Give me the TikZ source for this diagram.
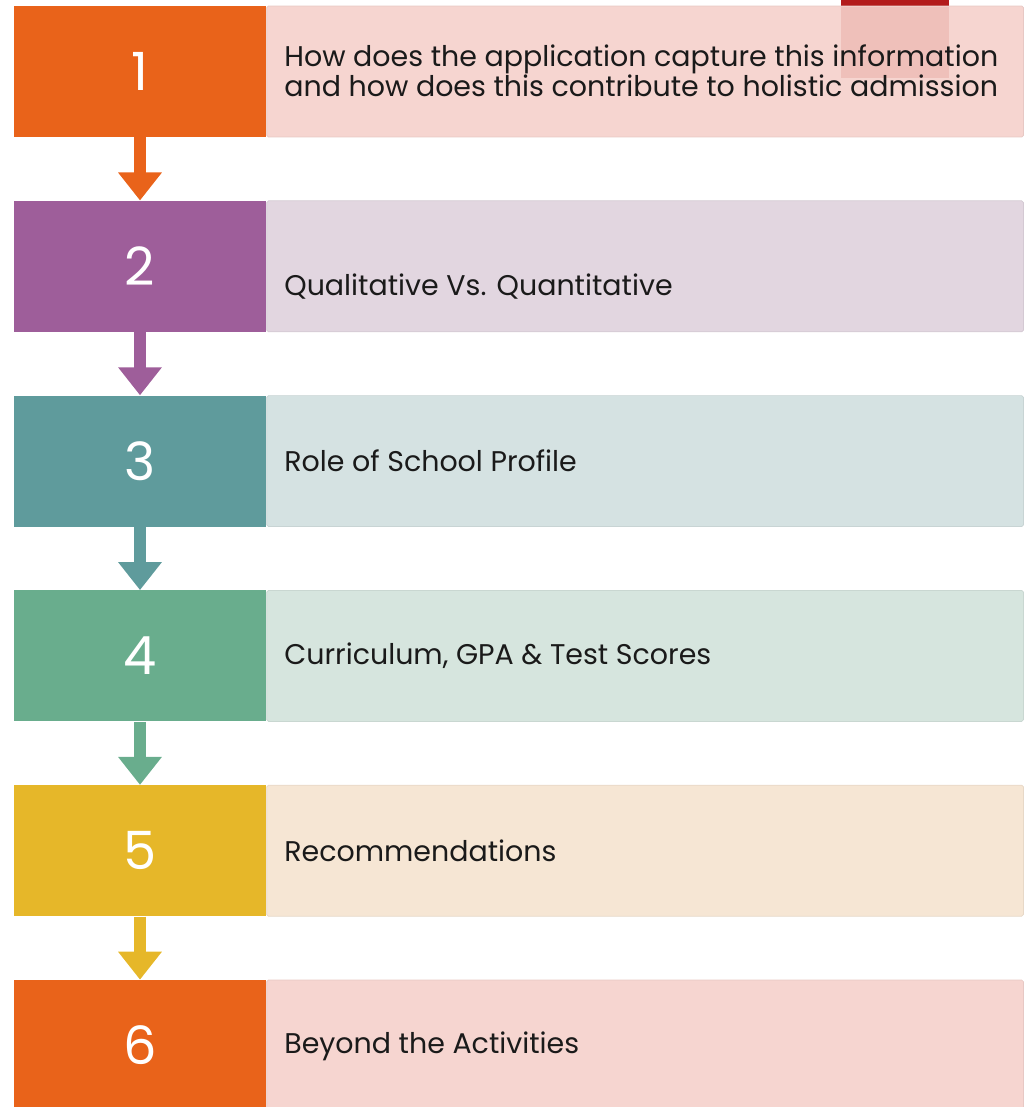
\documentclass[tikz,border=0pt]{standalone}
\usepackage{fontspec}
\setmainfont{Poppins}
\usetikzlibrary{arrows.meta,positioning,calc}
\definecolor{StepOrange}{HTML}{E9631A}
\definecolor{StepPurple}{HTML}{9E5E9A}
\definecolor{StepTeal}{HTML}{5F9B9C}
\definecolor{StepGreen}{HTML}{69AD8D}
\definecolor{StepYellow}{HTML}{E6B729}
\definecolor{PaleOrange}{HTML}{F6D5D0}
\definecolor{PalePurple}{HTML}{E2D6E0}
\definecolor{PaleTeal}{HTML}{D5E2E2}
\definecolor{PaleGreen}{HTML}{D6E5DE}
\definecolor{PaleYellow}{HTML}{F6E6D4}
\definecolor{TabRed}{HTML}{B31B1B}
\definecolor{TabShade}{HTML}{EFC0BA}
\definecolor{Ink}{HTML}{1A1A1A}

\begin{document}
\begin{tikzpicture}[x=0.02cm,y=-0.02cm,
  numbox/.style={rectangle,minimum width=5.04cm,minimum height=2.62cm,inner sep=0pt,text=white,font=\fontsize{30}{30}\selectfont},
  textbox/.style={rectangle,minimum width=15.14cm,minimum height=2.62cm,inner sep=0pt,anchor=west,rounded corners=1pt},
  lbl/.style={anchor=west,align=left,inner sep=0pt,text=Ink,font=\fontsize{16.2}{17}\selectfont},
  steparrow/.style={line width=0.24cm,-{Triangle[width=0.84cm,length=0.56cm]}}]
\useasboundingbox (0,0) rectangle (1029,1107);
% red tab behind the first row
\fill[TabRed] (841,0) rectangle (949,78);
\foreach \i/\c/\l in {1/StepOrange/PaleOrange,2/StepPurple/PalePurple,3/StepTeal/PaleTeal,4/StepGreen/PaleGreen,5/StepYellow/PaleYellow,6/StepOrange/PaleOrange} {
  \node[numbox,fill=\c] (n\i) at (140,{71.5+194.8*(\i-1)}) {\i};
  \node[textbox,fill=\l,draw=\l!94!black,line width=0.4pt] (t\i) at (n\i.east) {};
}
\fill[TabShade] (841,6.5) rectangle (949,78);
% connectors
\foreach \i/\j/\c in {1/2/StepOrange,2/3/StepPurple,3/4/StepTeal,4/5/StepGreen,5/6/StepYellow}
  \draw[steparrow,\c] (n\i.south) -- (n\j.north);
% labels
\node[lbl] (l1) at (284,71) {How does the application capture this information\\and how does this contribute to holistic admission};
\node[lbl] (l2) at (284,287) {Qualitative Vs. Quantitative};
\node[lbl] (l3) at (284,461) {Role of School Profile};
\node[lbl] (l4) at (284,656) {Curriculum, GPA \& Test Scores};
\node[lbl] (l5) at (284,851) {Recommendations};
\node[lbl] (l6) at (284,1046) {Beyond the Activities};
\end{tikzpicture}
\end{document}
